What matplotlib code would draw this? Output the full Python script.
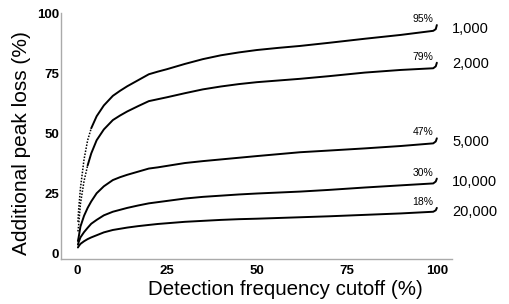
import numpy as np
import matplotlib
matplotlib.use('Agg')
import matplotlib.pyplot as plt

plt.rcParams['font.family'] = ['Liberation Sans', 'DejaVu Sans']

# detection frequency cutoff (%)
cutoff = [0.3, 0.5, 1, 2, 3, 4, 5.5, 7.5, 10, 12, 14, 17, 20, 22.5, 25, 30, 35, 40, 45, 50, 56, 62, 70, 80, 90, 99, 99.7, 100]

# additional peak loss (%) per number of samples
loss_1000 = [13, 18, 27, 39, 47, 52, 57, 61.5, 65.5, 67.6, 69.5, 72, 74.5, 75.6, 76.6, 78.8, 80.8, 82.4, 83.6, 84.6, 85.5, 86.3, 87.6, 89.3, 90.9, 92.6, 93.3, 95]
loss_2000 = [9, 11.5, 20.5, 30, 36.5, 41.5, 47, 51.5, 55.4, 57.3, 59, 61.2, 63.3, 64.1, 64.9, 66.6, 68.2, 69.4, 70.4, 71.2, 71.9, 72.6, 73.7, 75.2, 76.3, 77, 77.8, 79.3]
loss_5000 = [5, 6.5, 11, 15.5, 18.8, 21.5, 24.9, 27.8, 30.4, 31.6, 32.6, 33.9, 35.2, 35.7, 36.3, 37.5, 38.3, 39, 39.7, 40.4, 41.2, 42, 42.7, 43.6, 44.6, 45.7, 46.5, 47.8]
loss_10000 = [3.5, 4.5, 6.5, 8.7, 10.5, 12.2, 13.8, 15.7, 17.2, 18, 18.8, 19.8, 20.7, 21.2, 21.7, 22.7, 23.4, 23.9, 24.4, 24.8, 25.2, 25.6, 26.3, 27.3, 28.2, 29, 29.8, 31]
loss_20000 = [2.3, 2.8, 3.8, 4.9, 5.8, 6.5, 7.4, 8.6, 9.6, 10.1, 10.6, 11.2, 11.7, 12.1, 12.4, 13, 13.4, 13.8, 14.1, 14.3, 14.6, 14.9, 15.3, 15.9, 16.5, 17.2, 17.8, 18.8]

series = [loss_1000, loss_2000, loss_5000, loss_10000, loss_20000]
series_labels = ['1,000', '2,000', '5,000', '10,000', '20,000']
end_labels = ['95%', '79%', '47%', '30%', '18%']
label_y = [93.3, 78.8, 46.3, 29.6, 17.1]
# steep start drawn as sparse dots
dot_until = [4, 3, 0, 0, 0]

fig = plt.figure(figsize=(5.1, 3.04), dpi=100)
ax = fig.add_axes([0.1196, 0.148, 0.7666, 0.809])

x = np.array(cutoff)
for y, name, pct, ly, du in zip(series, series_labels, end_labels, label_y, dot_until):
    y = np.array(y)
    if du > 0:
        m = x <= du
        ax.plot(x[m], y[m], color='black', lw=1.1, ls=(0, (1, 1)))
        m2 = x >= x[m][-1]
        ax.plot(x[m2], y[m2], color='black', lw=1.4, solid_capstyle='round')
    else:
        ax.plot(x, y, color='black', lw=1.4, solid_capstyle='round')
    ax.text(99, y[-1] + 0.4, pct, fontsize=7.5, ha='right', va='bottom')
    ax.text(104.2, ly, name, fontsize=10.5, ha='left', va='center', clip_on=False)

ax.set_xlim(-4.4, 104.2)
ax.set_ylim(-2.5, 100)
ax.set_xticks([0, 25, 50, 75, 100])
ax.set_yticks([0, 25, 50, 75, 100])
ax.tick_params(length=0, labelsize=9.5)
ax.tick_params(axis='x', pad=4)
ax.tick_params(axis='y', pad=1.5)
for lab in ax.get_xticklabels() + ax.get_yticklabels():
    lab.set_fontweight('bold')

for s in ['top', 'right']:
    ax.spines[s].set_visible(False)
for s in ['left', 'bottom']:
    ax.spines[s].set_color('#aaaaaa')
    ax.spines[s].set_linewidth(1.0)

ax.set_xlabel('Detection frequency cutoff (%)', fontsize=14.8)
ax.set_ylabel('Additional peak loss (%)', fontsize=15)
ax.xaxis.set_label_coords(0.573, -0.086)
ax.yaxis.set_label_coords(-0.101, 0.47)
ax.xaxis.label.set_va('top')
ax.yaxis.label.set_va('center')

fig.savefig('out.png', dpi=100)
